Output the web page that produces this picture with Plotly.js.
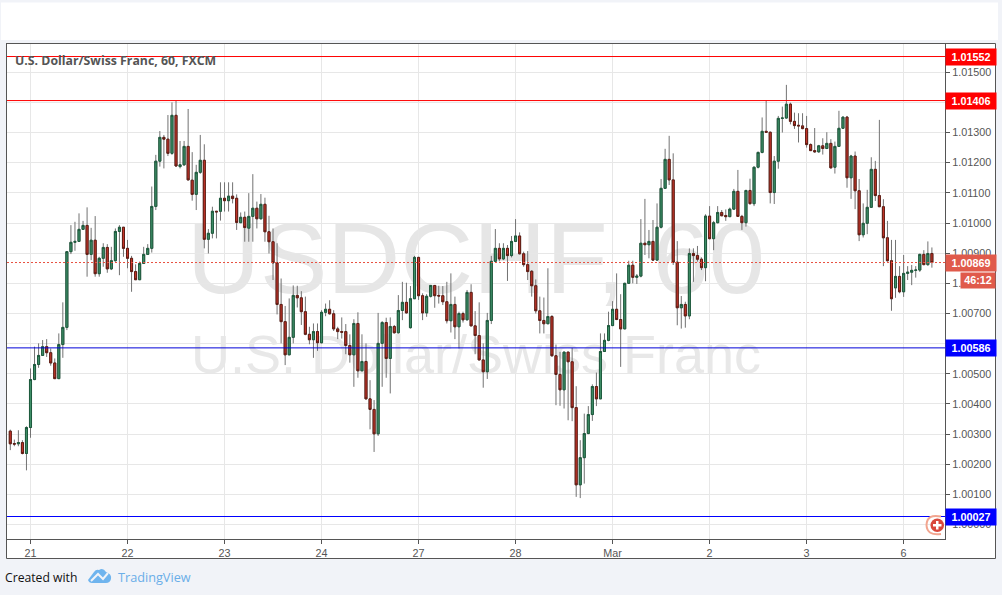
<!DOCTYPE html>
<html><head><meta charset="utf-8">
<script src="https://cdn.plot.ly/plotly-3.0.1.min.js"></script>
<style>html,body{margin:0;padding:0;background:#f1f3f8;overflow:hidden}#c{width:1002px;height:595px}</style>
</head><body><div id="c"></div>
<script>
// OHLC, in 0.00001 units above 1.00000
const openPts=[310,269,268,272,236,322,481,531,561,590,
570,536,484,597,654,905,936,939,979,992,
896,943,832,883,919,848,875,972,986,916,
883,839,812,866,896,916,1055,1205,1284,1278,
1231,1357,1187,1193,1254,1142,1095,1168,1208,946,
966,1039,1039,1082,1074,1089,1082,1001,1019,983,
1022,1049,1014,1062,971,938,868,730,673,563,
621,760,752,706,631,613,640,603,704,714,
699,649,640,640,594,563,667,510,541,417,
382,301,601,670,551,657,636,710,737,653,
749,886,759,702,757,793,760,759,739,676,
730,656,700,679,770,659,627,546,507,677,
873,916,881,916,892,939,957,898,862,840,
792,709,677,666,690,560,498,447,572,540,
388,132,222,302,365,458,417,574,611,660,
714,680,649,800,860,820,824,933,928,939,
877,986,1115,1211,1143,870,719,730,692,899,
892,880,852,1023,948,1001,1035,1025,1021,1046,
1105,1022,1001,1108,1064,1185,1234,1304,1301,1101,
1205,1347,1348,1394,1337,1324,1322,1313,1260,1240,
1236,1256,1247,1264,1185,1254,1314,1351,1150,1222,
1107,961,999,1052,1178,1091,1054,951,875,785,
823,772,833,837,843,844,896,862,899];
const closePts=[268,267,272,236,322,481,531,561,590,570,
536,484,597,654,905,936,939,979,992,896,
943,832,883,919,848,875,972,986,916,883,
839,812,866,896,916,1055,1205,1284,1278,1231,
1357,1189,1193,1254,1143,1095,1168,1208,946,966,
1039,1037,1082,1074,1089,1081,1002,1019,985,1022,
1049,1014,1062,971,938,868,730,673,563,621,
760,752,706,631,613,640,603,704,714,699,
649,640,638,594,563,667,510,541,417,382,
301,601,670,551,657,636,710,737,702,749,
886,759,702,757,793,759,758,739,676,730,
656,700,679,770,659,627,546,507,677,873,
916,881,916,892,939,957,898,862,839,792,
709,677,666,690,560,498,447,572,540,388,
132,222,302,365,458,417,574,611,660,714,
680,649,800,860,820,824,933,928,939,877,
986,1115,1211,1143,870,719,730,692,899,892,
880,852,1023,948,1001,1035,1024,1021,1046,1105,
1022,1001,1108,1064,1185,1234,1304,1301,1101,1205,
1347,1348,1394,1337,1323,1322,1313,1260,1240,1236,
1256,1247,1264,1183,1254,1314,1351,1150,1222,1107,
961,999,1052,1178,1091,1054,951,875,749,823,
772,833,837,843,844,896,862,899,869];
const highPts=[315,282,313,280,326,518,590,601,612,615,
584,551,634,737,906,993,1004,1032,1007,1052,
984,1023,888,933,930,921,982,993,987,944,
891,863,872,921,930,1121,1226,1305,1292,1358,
1400,1405,1272,1272,1378,1235,1193,1292,1261,980,
1054,1040,1135,1135,1135,1135,1095,1035,1038,1099,
1162,1071,1096,1084,1024,982,933,816,725,750,
793,792,774,756,656,667,667,711,733,744,
711,656,687,665,631,681,704,631,601,479,
413,702,675,686,687,662,761,805,802,791,
891,888,767,764,794,794,792,791,805,833,
756,706,706,778,797,708,737,601,702,891,
980,933,933,927,957,1013,969,905,907,844,
813,756,753,850,695,597,573,573,573,586,
459,280,368,393,465,504,634,634,706,741,
833,764,802,875,875,831,1013,1080,977,1010,
1065,1146,1246,1289,1231,940,758,739,916,916,
924,886,1029,1056,1007,1056,1043,1045,1051,1113,
1176,1027,1110,1147,1187,1237,1350,1406,1303,1222,
1355,1386,1458,1399,1366,1364,1364,1355,1264,1315,
1259,1281,1301,1278,1270,1372,1353,1355,1226,1237,
1146,1065,1110,1218,1206,1342,1079,1007,944,944,
857,894,857,861,857,898,910,939,919];
const lowPts=[247,260,260,233,180,288,479,520,559,556,
527,483,483,553,645,897,908,938,977,822,
877,822,822,855,835,844,872,827,888,850,
772,811,811,864,894,902,1043,1187,1181,1222,
1226,1187,1181,1189,1141,1074,1043,1163,916,899,
949,949,1008,1038,1038,1065,977,1000,938,938,
938,982,1012,938,899,811,697,601,529,562,
601,720,662,628,598,553,576,601,691,697,
642,615,617,565,537,457,487,509,415,316,
241,294,457,487,435,634,634,678,700,650,
748,745,678,689,753,719,733,728,667,637,
615,584,670,678,658,565,545,454,483,665,
871,873,877,808,886,938,896,855,811,756,
700,634,634,665,556,396,394,385,346,343,
92,88,136,300,344,393,417,573,608,658,
678,523,648,798,800,798,820,894,883,874,
876,982,1113,1126,861,661,650,653,681,805,
872,844,807,946,910,999,1023,1007,1020,1043,
1021,977,988,1062,1056,1181,1231,1300,1065,1063,
1180,1300,1346,1327,1312,1267,1311,1250,1239,1233,
1233,1227,1245,1180,1164,1252,1312,1117,1080,1046,
940,952,963,1050,1073,1053,857,872,709,752,
767,755,811,794,819,838,860,858,852];

const dayTickIndex=[5,29,53,77,101,125,149,173,197,221];
const dayTickLabels=['21','22','23','24','27','28','Mar','2','3','6'];
const priceTicks=[1.000,1.001,1.002,1.003,1.004,1.005,1.006,1.007,1.008,1.009,1.010,1.011,1.012,1.013,1.014,1.015];
const priceTickLabels=['1.00000','1.00100','1.00200','1.00300','1.00400','1.00500','','1.00700','1.00800','1.00900','1.01000','1.01100','1.01200','1.01300','','1.01500'];
const redLevels=[1.01552,1.01406];
const blueLevels=[1.00586,1.00027];
const lastPrice=1.00869;
const countdownText='46:12';
const symbolTitle='U.S. Dollar/Swiss Franc, 60, FXCM';
const watermarkMain='USDCHF, 60';
const watermarkSub='U.S. Dollar/Swiss Franc';

const price=a=>a.map(v=>+(1+v/1e5).toFixed(5));
const O=price(openPts),C=price(closePts),H=price(highPts),L=price(lowPts);
const idx=O.map((_,i)=>i);
const bodyHi=O.map((v,i)=>Math.max(v,C[i])), bodyLo=O.map((v,i)=>Math.min(v,C[i]));

// plot box in page pixels (integer margins, Plotly rounds them)
const W=1002,Ht=595,PL=7,PR=945,PT=44,PB=539;
const px=x=>(x-PL)/(PR-PL), py=y=>(PB-y)/(PB-PT);
const box=(x0,y0,x1,y1,extra)=>Object.assign({type:'rect',xref:'paper',yref:'paper',x0:px(x0),x1:px(x1),y0:py(y0),y1:py(y1),line:{width:0}},extra);
const path=(d,extra)=>Object.assign({type:'path',xref:'paper',yref:'paper',
  path:d.replace(/(-?[\d.]+),(-?[\d.]+)/g,(m,a,b)=>px(+a)+','+py(+b)),line:{width:0}},extra);

const GREEN='#3f8f68',RED='#c8352a',GREEN_D='#1d5a3d',RED_D='#5f1d14',WICK='#727272';
const wicks={type:'candlestick',x:idx,open:O,high:H,low:L,close:C,whiskerwidth:0,hoverinfo:'skip',showlegend:false,
  increasing:{line:{color:WICK,width:1},fillcolor:GREEN},decreasing:{line:{color:WICK,width:1},fillcolor:RED}};
const bodies={type:'candlestick',x:idx,open:O,high:bodyHi,low:bodyLo,close:C,whiskerwidth:0,hoverinfo:'skip',showlegend:false,
  increasing:{line:{color:GREEN_D,width:1},fillcolor:GREEN},decreasing:{line:{color:RED_D,width:1},fillcolor:RED}};

const FONT='"Liberation Sans",Arial,sans-serif';
const hline=(v,color,dash)=>({type:'line',xref:'paper',yref:'y',x0:0,x1:1,y0:v,y1:v,line:{color,width:1,dash:dash||'solid'}});
const tag=(v,bg)=>({xref:'paper',yref:'y',x:px(970.5),y:v,text:v.toFixed(5),showarrow:false,width:50,height:15.5,
  bgcolor:bg,borderpad:0,font:{family:FONT,size:10.8,color:'#fff',weight:700},xanchor:'center',yanchor:'middle'});

const shapes=[
  box(0,0,W,Ht,{fillcolor:'#f1f3f8',layer:'below'}),
  box(1,2.5,998,40,{fillcolor:'#ffffff',layer:'below'}),
  box(6.5,43.5,995.5,558.5,{fillcolor:'#ffffff',layer:'below',line:{color:'#555',width:1}}),
  box(PL,209,PR,287,{layer:'below',fillcolor:'rgba(0,0,0,0)',
    label:{text:watermarkMain,font:{family:FONT,size:101,color:'#e6e6e6'},textposition:'middle center'}}),
  box(PL,325,PR,372,{layer:'below',fillcolor:'rgba(0,0,0,0)',
    label:{text:watermarkSub,font:{family:FONT,size:54,color:'#e8e8e8'},textposition:'middle center'}}),
  hline(redLevels[0],'#ff0000'),hline(redLevels[1],'#ff0000'),
  hline(blueLevels[0],'#0000d8'),hline(blueLevels[1],'#0000ff'),
  hline(lastPrice,'#e8503f','2px,2px'),
  // currency flag
  path('M941,516.5 Q927,513.5 926.5,525 Q927,536 941,534',{line:{color:'#f2a58f',width:2}}),
  {type:'circle',xref:'paper',yref:'paper',x0:px(930.5),x1:px(944),y0:py(518.5),y1:py(532),fillcolor:'#d9483b',line:{width:0}},
  box(936,521,938.5,529.5,{fillcolor:'#fff'}),
  box(933,524,941.5,526.5,{fillcolor:'#fff'}),
  // TradingView logo
  path('M88,580 L94,572 Q96,569 99,570 Q103,567 106,572 Q112,574 111,579 Q110,583 106,583 L92,583 Q89,583 88,580 Z',{fillcolor:'#6fb4ee'}),
  path('M91,581 L98,574 L103,579 L108,573',{line:{color:'#f1f3f8',width:2}}),
];

const annotations=[
  {xref:'paper',yref:'paper',x:px(13),y:py(60.5),xanchor:'left',yanchor:'middle',showarrow:false,text:symbolTitle,
   font:{family:'"Open Sans",sans-serif',size:12.3,color:'#555',weight:700}},
  tag(redLevels[0],'#ff0000'),tag(redLevels[1],'#ff0000'),
  tag(blueLevels[0],'#0000ff'),tag(blueLevels[1],'#0000ff'),
  tag(lastPrice,'#e05a4b'),
  {xref:'paper',yref:'paper',x:px(978),y:py(280.3),text:countdownText,showarrow:false,width:34,height:14.5,bgcolor:'#e05a4b',borderpad:0,
   font:{family:FONT,size:10.8,color:'#fff',weight:700},xanchor:'center',yanchor:'middle'},
  {xref:'paper',yref:'paper',x:px(3),y:py(577),xanchor:'left',yanchor:'middle',showarrow:false,text:'Created with',
   font:{family:'"Open Sans",sans-serif',size:12.2,color:'#111'}},
  {xref:'paper',yref:'paper',x:px(115.5),y:py(577),xanchor:'left',yanchor:'middle',showarrow:false,text:'TradingView',
   font:{family:'"Open Sans",sans-serif',size:12.7,color:'#6aaee8'}},
];

const layout={
  width:W,height:Ht,paper_bgcolor:'rgba(0,0,0,0)',plot_bgcolor:'rgba(0,0,0,0)',showlegend:false,hovermode:false,dragmode:false,
  margin:{l:PL,r:W-PR,t:PT,b:Ht-PB,pad:0,autoexpand:false},
  boxmode:'overlay',boxgap:0.28,
  xaxis:{type:'linear',range:[-0.814,231.24],tickmode:'array',tickvals:dayTickIndex,ticktext:dayTickLabels,
    rangeslider:{visible:false},showgrid:true,gridcolor:'#e7e7e7',gridwidth:1,zeroline:false,
    ticks:'outside',ticklen:4,tickcolor:'#555',showline:true,linecolor:'#555',linewidth:1,mirror:true,
    tickfont:{family:FONT,size:10.8,color:'#555'},layer:'below traces'},
  yaxis:{type:'linear',side:'right',range:[0.9995239,1.015935],tickmode:'array',tickvals:priceTicks,ticktext:priceTickLabels,
    showgrid:true,gridcolor:'#e7e7e7',gridwidth:1,zeroline:false,
    ticks:'outside',ticklen:4,tickcolor:'#555',showline:true,linecolor:'#555',linewidth:1,mirror:true,
    tickfont:{family:FONT,size:10.8,color:'#555'},layer:'below traces'},
  shapes,annotations
};
Plotly.newPlot('c',[wicks,bodies],layout,{displayModeBar:false,staticPlot:true});
</script></body></html>
